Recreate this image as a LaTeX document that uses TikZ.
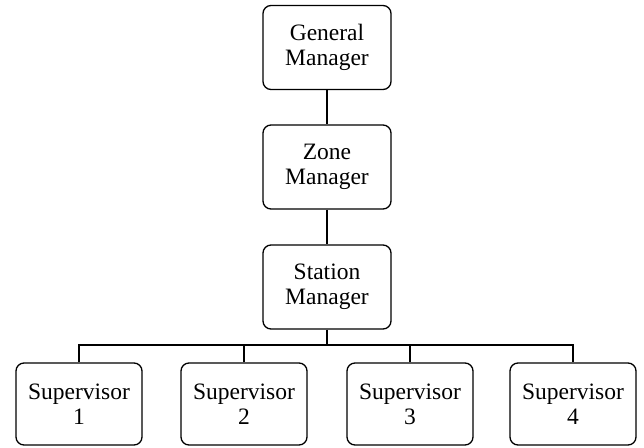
\documentclass[tikz,border=0pt]{standalone}
\usepackage{fontspec}
\setmainfont{Liberation Serif}
\begin{document}
\begin{tikzpicture}[x=1pt,y=-1pt,
  box/.style={draw, rounded corners=8pt, line width=1.3pt, align=center,
    minimum width=128pt, minimum height=84pt, inner sep=0pt,
    font=\fontsize{23.5}{25}\selectfont},
  sup/.style={box, minimum width=126pt, minimum height=82pt},
  conn/.style={line width=1.3pt}]
\useasboundingbox (0,0) rectangle (644,447);
\node[box] (gm) at (327,47.5) {General\\Manager};
\node[box] (zm) at (327,167) {Zone\\Manager};
\node[box] (sm) at (327,287) {Station\\Manager};
\node[sup] (s1) at (79,404) {Supervisor\\1};
\node[sup] (s2) at (244,404) {Supervisor\\2};
\node[sup] (s3) at (410,404) {Supervisor\\3};
\node[sup] (s4) at (573,404) {Supervisor\\4};
\coordinate (bus) at (327,345);
\draw[conn] (gm) -- (zm);
\draw[conn] (zm) -- (sm);
\draw[conn] (sm) -- (bus);
\draw[conn] (s1.north) |- (bus) -| (s4.north);
\draw[conn] (s2.north) -- (s2.north |- bus);
\draw[conn] (s3.north) -- (s3.north |- bus);
\end{tikzpicture}
\end{document}
